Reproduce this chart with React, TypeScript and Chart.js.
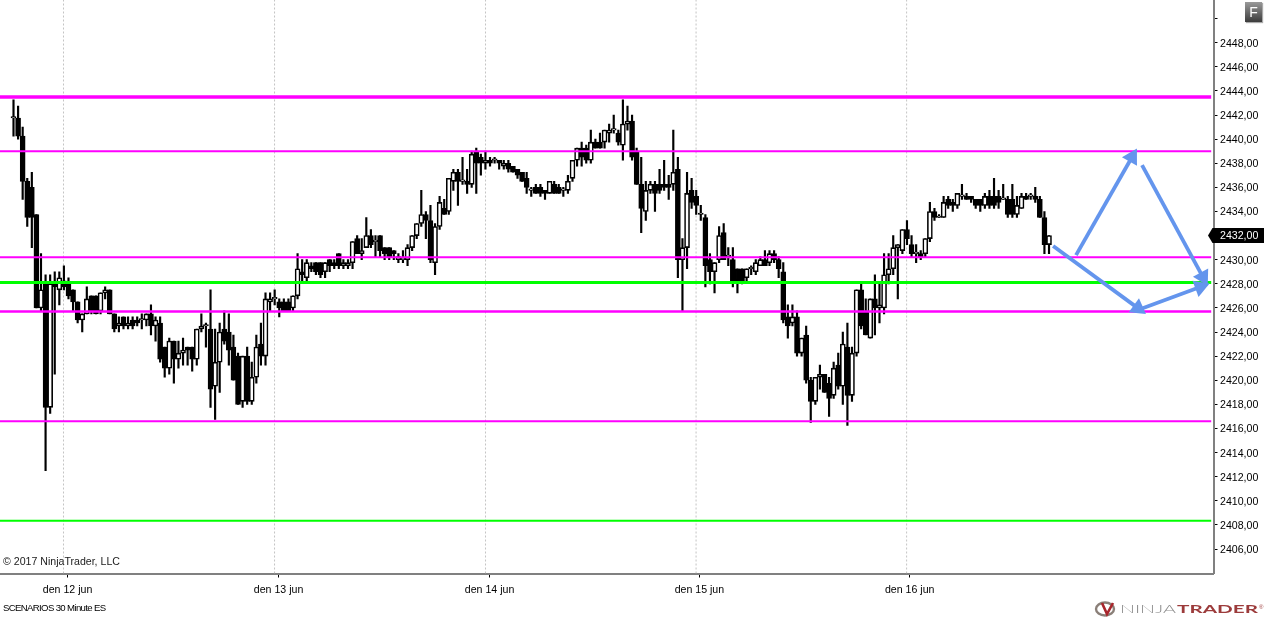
import React, { useEffect, useRef } from 'react';
import { Chart, registerables } from 'chart.js';

Chart.register(...registerables);

const opens = [
  2441.75, 2441.75, 2440.25, 2436.5, 2436, 2433.75, 2426, 2428, 2417.75, 2428,
  2427.5, 2428.25, 2428, 2427.5, 2426.5, 2425, 2425.5, 2427, 2427, 2425.75,
  2427.25, 2427.5, 2425.5, 2424.5, 2425.25, 2424.5, 2425, 2425, 2425, 2425,
  2425.5, 2424.5, 2424.75, 2422.75, 2421, 2423.25, 2421.75, 2422.25, 2422.75, 2422.75,
  2421.75, 2424.25, 2424.5, 2424.25, 2419.5, 2421.5, 2424.25, 2424, 2422.75, 2422,
  2418.25, 2422, 2418.25, 2420.25, 2423, 2422, 2426.5, 2426.75, 2426.5, 2426.5,
  2426.5, 2426, 2427, 2429, 2428.5, 2429.5, 2429.75, 2429.75, 2429, 2430,
  2429.75, 2430.5, 2429.5, 2429.5, 2429.75, 2431.75, 2430.5, 2431, 2432, 2431.5,
  2432, 2431, 2431, 2430.75, 2430, 2430, 2430, 2431, 2432, 2433,
  2433.75, 2433.25, 2429.75, 2432.75, 2434.25, 2434, 2436.5, 2437.25, 2436.5, 2436.5,
  2436.25, 2439, 2438.5, 2438, 2438.25, 2438.25, 2438.25, 2437.75, 2438, 2437.75,
  2437.5, 2437.25, 2436.75, 2435.75, 2436, 2436, 2435.75, 2435.5, 2436.25, 2436,
  2435.75, 2435.75, 2436.75, 2438.25, 2439.25, 2439.25, 2438.25, 2439.75, 2439.75, 2439.75,
  2440.5, 2440.75, 2440.5, 2439.5, 2441.25, 2441.5, 2439, 2436.25, 2434, 2435.75,
  2436.25, 2436.25, 2436.25, 2436.25, 2436.25, 2437.5, 2430, 2431, 2435.75, 2435.25,
  2433.75, 2433.5, 2430, 2429, 2430, 2432.25, 2430.25, 2430, 2429.25, 2429.25,
  2428.5, 2429.25, 2429, 2429.5, 2430, 2429.75, 2430.5, 2430, 2429, 2425.25,
  2424.75, 2425.25, 2422.25, 2423.75, 2420, 2418.25, 2420.25, 2420.5, 2419.75, 2418.75,
  2421.25, 2419.5, 2422.75, 2418.75, 2422.25, 2427.5, 2425.75, 2423.5, 2426.75, 2426,
  2426, 2428.75, 2429.25, 2431, 2430.75, 2432.5, 2431.25, 2430.5, 2430.5, 2430.5,
  2431.75, 2434, 2433.5, 2433.5, 2435, 2434.75, 2434.5, 2435.25, 2435.25, 2435.25,
  2435, 2435, 2434.5, 2435.25, 2435.25, 2435.25, 2435, 2435, 2435, 2433.75,
  2434.25, 2435.25, 2435.25, 2435.25, 2435, 2433.5, 2431.25,
];
const highs = [
  2443.25, 2442.75, 2441, 2436.75, 2437.25, 2433.75, 2430.5, 2428.75, 2428.75, 2429,
  2429, 2429.5, 2428.5, 2427.5, 2426.5, 2425.5, 2427.75, 2427, 2427, 2427.25,
  2427.75, 2427.5, 2425.5, 2425.25, 2425.25, 2425.25, 2425.25, 2425.25, 2425.5, 2425.5,
  2426.25, 2425.25, 2425.25, 2422.75, 2423.5, 2423.25, 2423.25, 2423.5, 2422.75, 2422.75,
  2424.25, 2425.5, 2424.75, 2427.5, 2424.25, 2424.75, 2425.75, 2425.5, 2423.75, 2422.25,
  2422, 2422.75, 2421.5, 2423.75, 2424.75, 2427.25, 2427.25, 2427.5, 2426.75, 2426.75,
  2426.75, 2427, 2430.5, 2430, 2430, 2429.75, 2429.75, 2429.75, 2429.75, 2430,
  2430, 2430.5, 2430, 2430, 2431.5, 2432, 2431.75, 2433.5, 2432.5, 2432,
  2432, 2431, 2431, 2430.75, 2430.5, 2430.75, 2431.25, 2432, 2433, 2435.75,
  2434, 2434.5, 2433, 2435.25, 2435, 2436.75, 2437.5, 2437.5, 2438.5, 2437.5,
  2439, 2439.25, 2438.75, 2439, 2438.5, 2438.5, 2438.25, 2438.25, 2438.25, 2437.75,
  2437.5, 2437.25, 2437.25, 2436, 2436.25, 2436.25, 2435.75, 2436.5, 2436.5, 2436.25,
  2436, 2437, 2438.25, 2439.25, 2439.75, 2439.5, 2440.75, 2440, 2440.5, 2440.75,
  2441.25, 2442, 2440.75, 2443.25, 2442.75, 2442, 2439.25, 2438.5, 2436.5, 2436.5,
  2436.5, 2437.5, 2438.25, 2437, 2440.75, 2438.5, 2431.75, 2437.25, 2436.75, 2435.75,
  2434.5, 2433.75, 2430.5, 2429.75, 2432.75, 2433, 2431, 2431, 2429.25, 2429.25,
  2429.25, 2429.5, 2430, 2430.25, 2430.75, 2430.75, 2430.75, 2430.25, 2429.75, 2426.25,
  2426.25, 2425.75, 2423.5, 2424.5, 2420.25, 2420.25, 2421.25, 2420.5, 2420.25, 2421.5,
  2422.25, 2424, 2424.75, 2422.75, 2427.5, 2428, 2426.75, 2426.75, 2428.75, 2428,
  2430.5, 2430.5, 2432, 2431.25, 2432.5, 2433.25, 2432, 2431.25, 2430.75, 2431.75,
  2434.75, 2434.25, 2433.75, 2435.25, 2435.25, 2435, 2435.5, 2436.25, 2435.5, 2435.25,
  2435, 2435, 2435.5, 2435.75, 2436.75, 2435.75, 2436.25, 2435.25, 2436.25, 2435.25,
  2435.5, 2435.5, 2435.5, 2436, 2435.25, 2434, 2432,
];
const lows = [
  2440.25, 2440, 2435, 2432.75, 2431, 2426, 2425.75, 2412.5, 2417.25, 2420.5,
  2426.25, 2427.5, 2426.75, 2425.75, 2424.75, 2424, 2425.5, 2425.5, 2425.5, 2425.5,
  2426.75, 2425.5, 2424, 2424, 2424.25, 2424.25, 2424.25, 2424.5, 2424.25, 2424.5,
  2423.75, 2423.25, 2421.5, 2420.25, 2420.5, 2419.75, 2421, 2421.25, 2421.25, 2420.75,
  2421.25, 2424, 2422.75, 2417.75, 2416.75, 2419, 2423, 2421.25, 2420, 2418,
  2417.75, 2418, 2418, 2419.75, 2421.25, 2421.25, 2425.75, 2426.25, 2425.25, 2425.75,
  2425.75, 2425.75, 2426.75, 2428.25, 2428.25, 2429, 2428.75, 2428.5, 2428.5, 2429,
  2429.25, 2429.25, 2429.25, 2429.25, 2429.25, 2430.5, 2430, 2431, 2431, 2430.25,
  2430.25, 2430, 2430, 2430, 2429.75, 2429.75, 2429.5, 2430.75, 2431.75, 2432.75,
  2431.75, 2429.75, 2428.75, 2432.5, 2433.75, 2433.75, 2435.75, 2434.5, 2436.25, 2435.5,
  2436, 2435.5, 2437, 2437.5, 2437.75, 2438, 2437.5, 2437.5, 2437.25, 2437.25,
  2436.75, 2436.5, 2435.5, 2435.25, 2435.5, 2435.25, 2435, 2435.5, 2435.5, 2435.5,
  2435.25, 2435.5, 2436.5, 2437.75, 2437.75, 2438, 2438, 2439.25, 2439.25, 2439.25,
  2439.75, 2440.5, 2439.5, 2438.25, 2440.75, 2438.25, 2436.25, 2432.25, 2433.25, 2435.5,
  2434, 2435.5, 2435.75, 2435, 2435.75, 2428.5, 2425.75, 2429.25, 2434.25, 2433.75,
  2433.25, 2427.75, 2428, 2427.25, 2429.75, 2430, 2429.5, 2427.75, 2427.25, 2428,
  2428.25, 2428.75, 2428.75, 2429.5, 2429.5, 2429.5, 2429.75, 2428.5, 2424.75, 2423.5,
  2424.5, 2422, 2422, 2419.75, 2416.5, 2418, 2419.25, 2419, 2417, 2418.5,
  2419.25, 2418, 2416.25, 2418.25, 2422, 2424.25, 2423.75, 2423.5, 2423.75, 2424.75,
  2425.5, 2428, 2428.75, 2426.75, 2430.5, 2431.25, 2430.25, 2429.75, 2430, 2430.25,
  2431.5, 2433.25, 2433.5, 2433.5, 2434.25, 2434, 2434.25, 2435, 2435, 2434.75,
  2434.25, 2434, 2434.25, 2434.25, 2434.25, 2434.25, 2435, 2433.5, 2433.5, 2433.5,
  2434.25, 2435, 2435, 2434.75, 2433.5, 2430.5, 2430.5,
];
const closes = [
  2441.75, 2440.25, 2436.5, 2433.5, 2433.5, 2426, 2427.5, 2417.75, 2428, 2427.75,
  2428.5, 2427.75, 2427, 2426.5, 2425, 2425.5, 2426.75, 2425.75, 2425.5, 2427.25,
  2427.5, 2425.5, 2424.25, 2424.75, 2424.5, 2424.75, 2424.5, 2424.75, 2425, 2425.5,
  2424.5, 2425, 2421.75, 2421, 2423.25, 2421.75, 2422.25, 2422.5, 2422.5, 2421.75,
  2424.25, 2424.5, 2424.5, 2419.25, 2421.5, 2424, 2423.25, 2422.5, 2420, 2418,
  2422, 2418.25, 2420.25, 2422.75, 2422, 2426.75, 2426.75, 2426.75, 2426, 2425.75,
  2425.75, 2427, 2429.25, 2428.75, 2429.75, 2429.25, 2429, 2428.75, 2429.75, 2429.5,
  2429.5, 2429.5, 2429.75, 2429.75, 2431.5, 2430.5, 2430.75, 2432, 2431.25, 2431.5,
  2430.75, 2430.5, 2430.25, 2430.5, 2430.25, 2430, 2431, 2432, 2433, 2433.75,
  2433.25, 2430, 2432.75, 2434.75, 2433.75, 2436.75, 2437.25, 2436.5, 2436.5, 2436.25,
  2438.75, 2438, 2438, 2438.25, 2438, 2438.25, 2438, 2438, 2437.5, 2437.25,
  2437, 2436.5, 2436, 2435.75, 2435.5, 2435.5, 2435.5, 2436.5, 2435.5, 2435.5,
  2435.75, 2436.5, 2438.25, 2439.25, 2438.5, 2438.25, 2439.75, 2439.25, 2439.25, 2440.75,
  2440.75, 2440.75, 2439.75, 2441.25, 2441.5, 2438.5, 2436.25, 2434.25, 2435.75, 2436.25,
  2435.5, 2435.75, 2436, 2436, 2437.25, 2430, 2431, 2435.5, 2434.75, 2434.5,
  2433.75, 2429.5, 2429, 2429.75, 2432, 2430, 2430.25, 2428.25, 2428.25, 2428.25,
  2429.25, 2429.25, 2429.75, 2430, 2429.5, 2430.5, 2430, 2429.25, 2425, 2424.5,
  2425.25, 2422.25, 2423.5, 2420, 2418.25, 2420.25, 2420.5, 2419, 2418.5, 2421,
  2419.5, 2423, 2418.75, 2422.25, 2427.5, 2424.5, 2423.75, 2426.75, 2426, 2426.25,
  2428.75, 2429.25, 2431, 2431.25, 2432.5, 2431.75, 2430.5, 2430.5, 2430.25, 2431.75,
  2434, 2433.5, 2433.5, 2434.75, 2434.5, 2434.5, 2435.5, 2435.25, 2435, 2435,
  2434.5, 2434.5, 2435.25, 2434.5, 2434.5, 2434.75, 2435, 2433.75, 2433.75, 2434.5,
  2435.25, 2435, 2435.25, 2435, 2433.5, 2431.25, 2432,
];

// horizontal levels drawn on the chart
const magentaLevels = [2443.5, 2439, 2430.2, 2425.7, 2416.6];
const greenLevels = [2428.1, 2408.35];

// scenario arrows as [x0, y0, x1, y1] in bar index / price
const arrows = [
  [231.9, 2430.38, 244.1, 2438.5],
  [246.3, 2437.85, 259.6, 2428.56],
  [226.9, 2431.13, 245.4, 2425.98],
  [245.4, 2425.82, 259, 2427.73],
];

const sessionBreaks = [10.91, 56.97, 103.02, 148.97, 194.92];
const dayTicks = [11.8, 57.85, 103.9, 149.7, 195.6];
const dayLabels = ['den 12 jun', 'den 13 jun', 'den 14 jun', 'den 15 jun', 'den 16 jun'];
const priceTicks = [
  2406, 2408, 2410, 2412, 2414, 2416, 2418, 2420, 2422, 2424, 2426, 2428,
  2430, 2432, 2434, 2436, 2438, 2440, 2442, 2444, 2446, 2448, 2450,
];
const lastPrice = 2432;

const FONT = '"Liberation Sans", Arial, sans-serif';
const X_MIN = -2.947;
const X_MAX = 261.9;
const Y_MIN = 2403.97;
const Y_MAX = 2451.54;
const PX_PER_BAR = 4.5815;
const PX_PER_POINT = 12.05;

const priceLabel = (v: number) => v.toFixed(2).replace('.', ',');

const levelLine = (level: number, color: string, width: number) => ({
  type: 'line' as const,
  data: [{ x: X_MIN, y: level }, { x: 261.4, y: level }],
  borderColor: color,
  borderWidth: width,
  pointRadius: 0,
  order: 1,
});

const arrowLine = ([x0, y0, x1, y1]: number[]) => ({
  type: 'line' as const,
  data: [{ x: x0, y: y0 }, { x: x1, y: y1 }],
  borderColor: '#6495ed',
  backgroundColor: '#6495ed',
  borderWidth: 3.8,
  pointStyle: 'triangle',
  pointRadius: [0, 10],
  pointBorderWidth: 0,
  pointRotation: (Math.atan2((x1 - x0) * PX_PER_BAR, (y1 - y0) * PX_PER_POINT) * 180) / Math.PI,
  order: 0,
});

const fitAxis = (scale: any, size: { width?: number; height?: number }) => {
  Object.assign(scale, size, { paddingTop: 0, paddingBottom: 0, paddingLeft: 0, paddingRight: 0 });
};

// the black current price tag on the axis
const priceTag = {
  id: 'priceTag',
  afterDraw(chart: Chart) {
    const { ctx } = chart;
    const y = chart.scales.y.getPixelForValue(lastPrice);
    ctx.save();
    ctx.fillStyle = '#000';
    ctx.beginPath();
    ctx.moveTo(1208, y);
    ctx.lineTo(1212.5, y - 7.5);
    ctx.lineTo(1264, y - 7.5);
    ctx.lineTo(1264, y + 7.5);
    ctx.lineTo(1212.5, y + 7.5);
    ctx.closePath();
    ctx.fill();
    ctx.fillStyle = '#fff';
    ctx.font = `10.6px ${FONT}`;
    ctx.textBaseline = 'middle';
    ctx.fillText(priceLabel(lastPrice), 1220, y + 1);
    ctx.restore();
  },
};

const ChartCanvas: React.FC = () => {
  const canvasRef = useRef<HTMLCanvasElement | null>(null);

  useEffect(() => {
    if (!canvasRef.current) return;

    const chart = new Chart(canvasRef.current, {
      type: 'bar',
      data: {
        datasets: [
          ...sessionBreaks.map((x) => ({
            type: 'line' as const,
            data: [{ x, y: Y_MIN }, { x, y: Y_MAX }],
            borderColor: '#c4c4c4',
            borderWidth: 1,
            borderDash: [2, 2],
            pointRadius: 0,
            order: 5,
          })),
          {
            // wicks
            data: highs.map((h, i) => ({ x: i, y: [lows[i], h] })),
            backgroundColor: '#000',
            barThickness: 1.5,
            grouped: false,
            order: 4,
          },
          {
            // bodies
            data: opens.map((o, i) => ({ x: i, y: [o, closes[i]] })),
            backgroundColor: opens.map((o, i) => (closes[i] >= o ? '#fff' : '#000')),
            borderColor: '#000',
            borderWidth: 1.6,
            borderSkipped: false,
            barThickness: 5,
            minBarLength: 1.5,
            grouped: false,
            order: 3,
          },
          ...magentaLevels.map((level, i) => levelLine(level, '#ff00ff', [3.4, 2, 2, 2.6, 2][i])),
          ...greenLevels.map((level, i) => levelLine(level, '#00ff00', [3, 2][i])),
          ...arrows.map(arrowLine),
        ] as any,
      },
      options: {
        animation: false,
        responsive: false,
        layout: { padding: 0, autoPadding: false },
        plugins: { legend: { display: false }, tooltip: { enabled: false } },
        scales: {
          x: {
            type: 'linear',
            offset: false,
            min: X_MIN,
            max: X_MAX,
            afterFit: (scale: any) => fitAxis(scale, { height: 43.5 }),
            afterBuildTicks: (scale: any) => { scale.ticks = dayTicks.map((value) => ({ value })); },
            border: { display: true, color: '#808080', width: 2 },
            grid: { offset: false, drawOnChartArea: false, drawTicks: true, tickColor: '#000', tickLength: 4 },
            ticks: {
              autoSkip: false,
              maxRotation: 0,
              padding: 6,
              color: '#000',
              font: { family: FONT, size: 10.6 },
              callback: (_v: any, i: number) => dayLabels[i],
            },
          },
          y: {
            position: 'right',
            min: Y_MIN,
            max: Y_MAX,
            afterFit: (scale: any) => fitAxis(scale, { width: 50.5 }),
            afterBuildTicks: (scale: any) => { scale.ticks = priceTicks.map((value) => ({ value })); },
            border: { display: true, color: '#808080', width: 2 },
            grid: { drawOnChartArea: false, drawTicks: true, tickColor: '#000', tickLength: 4 },
            ticks: {
              autoSkip: false,
              padding: 2.5,
              labelOffset: 1,
              color: '#000',
              font: { family: FONT, size: 10.6 },
              callback: (v: any) => (v === 2450 ? '' : priceLabel(Number(v))),
            },
          },
        },
      } as any,
      plugins: [priceTag],
    });

    return () => chart.destroy();
  }, []);

  return <canvas ref={canvasRef} width={1264} height={617} style={{ display: 'block' }} />;
};

const textStyle: React.CSSProperties = {
  position: 'absolute',
  fontFamily: FONT,
  color: '#000',
  whiteSpace: 'nowrap',
};

export default function App() {
  return (
    <div style={{ position: 'absolute', left: 0, top: 0, width: 1264, height: 617, background: '#fff', overflow: 'hidden' }}>
      <ChartCanvas />
      <div style={{ ...textStyle, left: 3, top: 555, fontSize: 10.6, color: '#222' }}>© 2017 NinjaTrader, LLC</div>
      <div style={{ ...textStyle, left: 3, top: 602, fontSize: 9.6, letterSpacing: -0.65 }}>SCENARIOS 30 Minute ES</div>
      <div
        style={{
          ...textStyle,
          left: 1245,
          top: 2,
          width: 17,
          height: 20,
          lineHeight: '20px',
          textAlign: 'center',
          fontSize: 14,
          color: '#fff',
          background: 'linear-gradient(#9a9a9a, #3c3c3c)',
          boxShadow: '1px 1px 1px #aaa',
        }}
      >
        F
      </div>
      <svg width={172} height={17} style={{ position: 'absolute', left: 1092, top: 600 }}>
        <ellipse cx={13} cy={9} rx={9} ry={6.5} fill="none" stroke="#8a7f78" strokeWidth={2.4} />
        <path d="M10 3 L15 14 L21 3" fill="none" stroke="#a8262c" strokeWidth={2.6} />
        <text x={28} y={13} fontFamily='"Lato", sans-serif' fontWeight={300} fontSize={11.5} fill="#8c8c8c" textLength={56} lengthAdjust="spacingAndGlyphs">
          NINJA
        </text>
        <text x={85} y={13} fontFamily='"Lato", sans-serif' fontWeight={700} fontSize={11.5} fill="#9c3b3b" textLength={81} lengthAdjust="spacingAndGlyphs">
          TRADER
        </text>
        <text x={167} y={9} fontFamily={FONT} fontSize={6} fill="#9c3b3b">®</text>
      </svg>
    </div>
  );
}
